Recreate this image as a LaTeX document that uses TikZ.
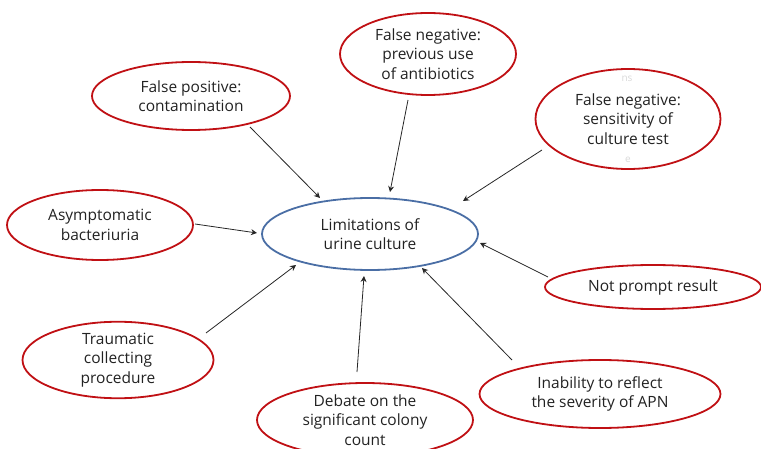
\documentclass[tikz,border=0pt]{standalone}
\usepackage{fontspec}
\setmainfont{Open Sans}
\usetikzlibrary{arrows.meta,shapes.geometric}
\definecolor{ered}{RGB}{192,16,20}
\definecolor{eblue}{RGB}{74,110,165}
\definecolor{txt}{RGB}{34,34,34}
\tikzset{
  bubble/.style={ellipse, draw=ered, line width=1.8pt, inner sep=0pt, outer sep=0pt,
    align=center, text=txt, font=\fontsize{15.5}{19.5}\selectfont},
  hub/.style={bubble, draw=eblue, line width=1.8pt},
  arr/.style={-{Stealth[length=6pt,width=6pt,inset=2pt]}, line width=0.8pt, draw=black!85},
  ghost/.style={text=black!15, font=\fontsize{10}{10}\selectfont}
}
\begin{document}
\begin{tikzpicture}[x=1pt,y=-1pt]
\useasboundingbox (0,0) rectangle (761,449);
\clip (0,0) rectangle (761,449);
\node[hub, minimum width=216pt, minimum height=72pt] (ctr) at (370,234) {Limitations of\\urine culture};
\node[bubble, minimum width=198pt, minimum height=68pt] (fp) at (191,96) {False positive:\\contamination};
\node[bubble, minimum width=176pt, minimum height=82pt] (fna) at (428,54) {False negative:\\previous use\\of antibiotics};
\node[bubble, minimum width=185pt, minimum height=100pt] (fns) at (628,119) {False negative:\\sensitivity of\\culture test};
\node[ghost] (g1) at (627,79) {ns};
\node[ghost] (g2) at (628,160) {e};
\node[bubble, minimum width=186pt, minimum height=70pt] (asb) at (100,225) {Asymptomatic\\bacteriuria};
\node[bubble, minimum width=216pt, minimum height=44pt] (npr) at (653,287) {Not prompt result};
\node[bubble, minimum width=191pt, minimum height=76pt] (tcp) at (118,360) {Traumatic\\collecting\\procedure};
\node[bubble, minimum width=216pt, minimum height=74pt] (deb) at (365,420) {Debate on the\\significant colony\\count};
\node[bubble, minimum width=241pt, minimum height=68pt] (inab) at (600,394) {Inability to reflect\\the severity of APN};
% connector end points
\coordinate (s1) at (250,127); \coordinate (t1) at (320,198);
\coordinate (s2) at (408,100); \coordinate (t2) at (390,192);
\coordinate (s3) at (542,150); \coordinate (t3) at (463,201);
\coordinate (s4) at (195,224); \coordinate (t4) at (257,233);
\coordinate (s5) at (548,277); \coordinate (t5) at (480,243);
\coordinate (s6) at (206,333); \coordinate (t6) at (296,265);
\coordinate (s7) at (357,372); \coordinate (t7) at (364,276);
\coordinate (s8) at (512,360); \coordinate (t8) at (422,268);
\foreach \i in {1,...,8} {\draw[arr] (s\i) -- (t\i);}
\end{tikzpicture}
\end{document}
